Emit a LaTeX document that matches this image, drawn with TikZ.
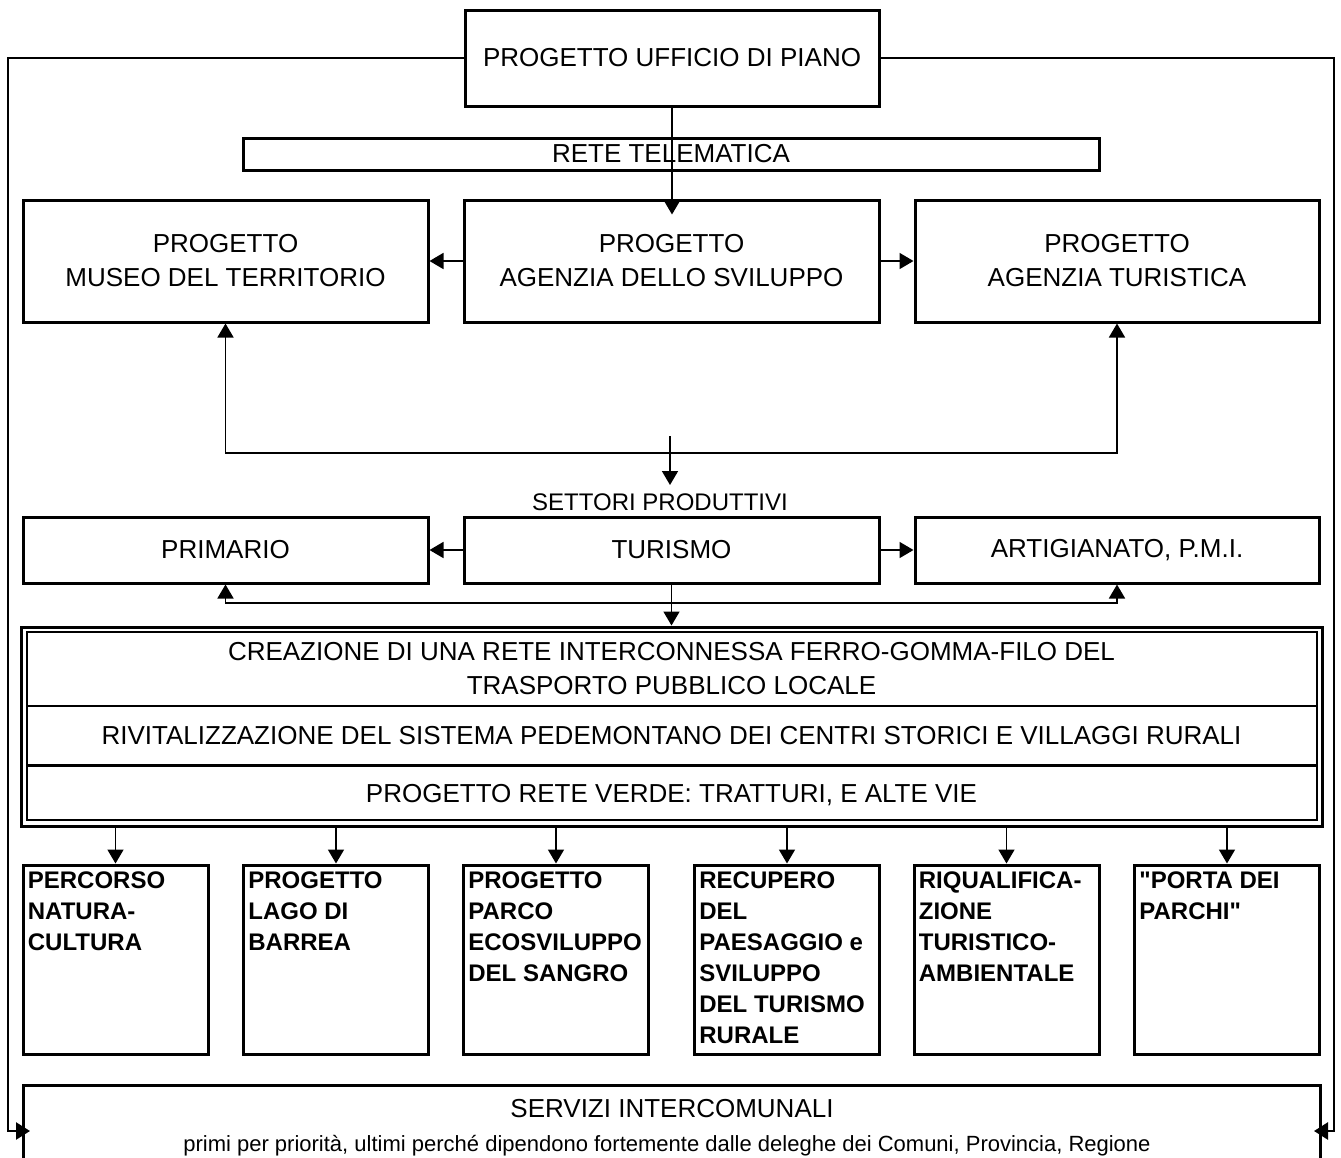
\documentclass[tikz,border=0pt]{standalone}
\usepackage{fontspec}
\setmainfont{Liberation Sans}
\newfontfamily\qfont{Liberation Sans}
\usetikzlibrary{arrows.meta,calc}
\begin{document}
\begin{tikzpicture}[x=0.5pt,y=-0.5pt,
  box/.style={draw, line width=1.5pt, inner sep=0pt, align=center, font=\fontsize{13}{17}\selectfont},
  txt/.style={inner sep=0pt, align=center, font=\fontsize{13}{17}\selectfont},
  bbox/.style={draw, line width=1.5pt, inner sep=0pt, minimum width=92.5pt, minimum height=94.5pt},
  btext/.style={anchor=north west, inner sep=0pt, align=left, font=\bfseries\fontsize{12}{15.5}\selectfont},
  arr/.style={line width=0.85pt, -{Triangle[length=7pt,width=8pt]}},
  loopline/.style={line width=1.25pt, -{Triangle[length=7pt,width=8.5pt]}},
]
\useasboundingbox (0,0) rectangle (1341,1158);
\clip (0,0) rectangle (1341,1158);
\fill[white] (0,0) rectangle (1341,1158);

% top
\node[box, minimum width=207pt, minimum height=48pt] (ufficio) at (672,58) {PROGETTO UFFICIO DI PIANO};
\node[box, minimum width=428pt, minimum height=16pt] (rete) at (671,154) {RETE TELEMATICA};

% row 2
\node[box, minimum width=202.5pt, minimum height=61pt] (museo) at (225.5,261) {PROGETTO\\MUSEO DEL TERRITORIO};
\node[box, minimum width=207.5pt, minimum height=61pt] (agenzia) at (671.5,261) {PROGETTO\\AGENZIA DELLO SVILUPPO};
\node[box, minimum width=202pt, minimum height=61pt] (turistica) at (1117,261) {PROGETTO\\AGENZIA TURISTICA};

\node[inner sep=0pt, font=\fontsize{12}{14}\selectfont] (settori) at (660,502) {SETTORI PRODUTTIVI};

% row 3
\node[box, minimum width=202.5pt, minimum height=33pt] (primario) at (225.5,550) {PRIMARIO};
\node[box, minimum width=207.5pt, minimum height=33pt] (turismo) at (671.5,550) {TURISMO};
\node[box, minimum width=202pt, minimum height=33pt] (artig) at (1117,550) {ARTIGIANATO, P.M.I.};

% triple box
\node[draw, line width=1.5pt, inner sep=0pt, minimum width=650.5pt, minimum height=99.5pt] (trasp) at (671.5,726.5) {};
\draw[line width=1pt] (27,632) rectangle (1317,820);
\draw[line width=0.75pt] (27,706) -- (1317,706);
\draw[line width=1.5pt] (27,765) -- (1317,765);
\node[txt] (t1) at (671.5,669) {CREAZIONE DI UNA RETE INTERCONNESSA FERRO-GOMMA-FILO DEL\\TRASPORTO PUBBLICO LOCALE};
\node[txt] (t2) at (671.5,735.5) {RIVITALIZZAZIONE DEL SISTEMA PEDEMONTANO DEI CENTRI STORICI E VILLAGGI RURALI};
\node[txt, anchor=base] (t3) at (671.5,802) {PROGETTO RETE VERDE: TRATTURI, E ALTE VIE};

% bottom boxes
\node[bbox] (b1) at (115.5,959.5) {};
\node[bbox] (b2) at (336,959.5) {};
\node[bbox] (b3) at (556,959.5) {};
\node[bbox] (b4) at (787,959.5) {};
\node[bbox] (b5) at (1006.5,959.5) {};
\node[bbox] (b6) at (1227,959.5) {};
\node[btext] (bt1) at ([xshift=3pt,yshift=-4pt]b1.north west) {PERCORSO\\NATURA-\\CULTURA};
\node[btext] (bt2) at ([xshift=3pt,yshift=-4pt]b2.north west) {PROGETTO\\LAGO DI\\BARREA};
\node[btext] (bt3) at ([xshift=3pt,yshift=-4pt]b3.north west) {PROGETTO\\PARCO\\ECOSVILUPPO\\DEL SANGRO};
\node[btext] (bt4) at ([xshift=3pt,yshift=-4pt]b4.north west) {RECUPERO\\DEL\\PAESAGGIO e\\SVILUPPO\\DEL TURISMO\\RURALE};
\node[btext] (bt5) at ([xshift=3pt,yshift=-4pt]b5.north west) {RIQUALIFICA-\\ZIONE\\TURISTICO-\\AMBIENTALE};
\node[btext, font=\qfont\bfseries\fontsize{12}{15.5}\selectfont] (bt6) at ([xshift=3pt,yshift=-4pt]b6.north west) {"PORTA DEI\\PARCHI"};

% servizi
\node[draw, line width=1.5pt, inner sep=0pt, minimum width=648.5pt, minimum height=57.5pt] (serv) at (671.5,1142.5) {};
\node[txt, anchor=base] (servt) at (672,1117) {SERVIZI INTERCOMUNALI};
\node[inner sep=0pt, anchor=base, font=\fontsize{11}{13}\selectfont] (servs) at (667,1151) {primi per priorità, ultimi perché dipendono fortemente dalle deleghe dei Comuni, Provincia, Regione};

% connectors
\draw[arr] (ufficio.south) -- ($(agenzia.north)+(0.5,16)$);
\draw[arr] (agenzia.west) -- (museo.east);
\draw[arr] (agenzia.east) -- (turistica.west);

\coordinate (j1) at (670,453);
\draw[arr] (j1) -| (museo.south);
\draw[arr] (j1) -| (turistica.south);
\coordinate (s1) at (670,436);
\coordinate (s1e) at (670,485);
\draw[arr] (s1) -- (s1e);

\draw[arr] (turismo.west) -- (primario.east);
\draw[arr] (turismo.east) -- (artig.west);
\draw[arr] (turismo.south) -- (turismo.south |- trasp.north);
\coordinate (j2) at (671.5,603);
\draw[arr] (j2) -| (primario.south);
\draw[arr] (j2) -| (artig.south);

\foreach \b in {b1,b2,b3,b4,b5,b6}
  \draw[arr] (trasp.south -| \b.north) -- (\b.north);

\coordinate (lc) at (8,1131);
\coordinate (le) at (30,1131);
\coordinate (rc) at (1334,1131);
\coordinate (re) at (1314,1131);
\draw[loopline] (ufficio.west) -| (lc) -- (le);
\draw[loopline] (ufficio.east) -| (rc) -- (re);
\end{tikzpicture}
\end{document}
